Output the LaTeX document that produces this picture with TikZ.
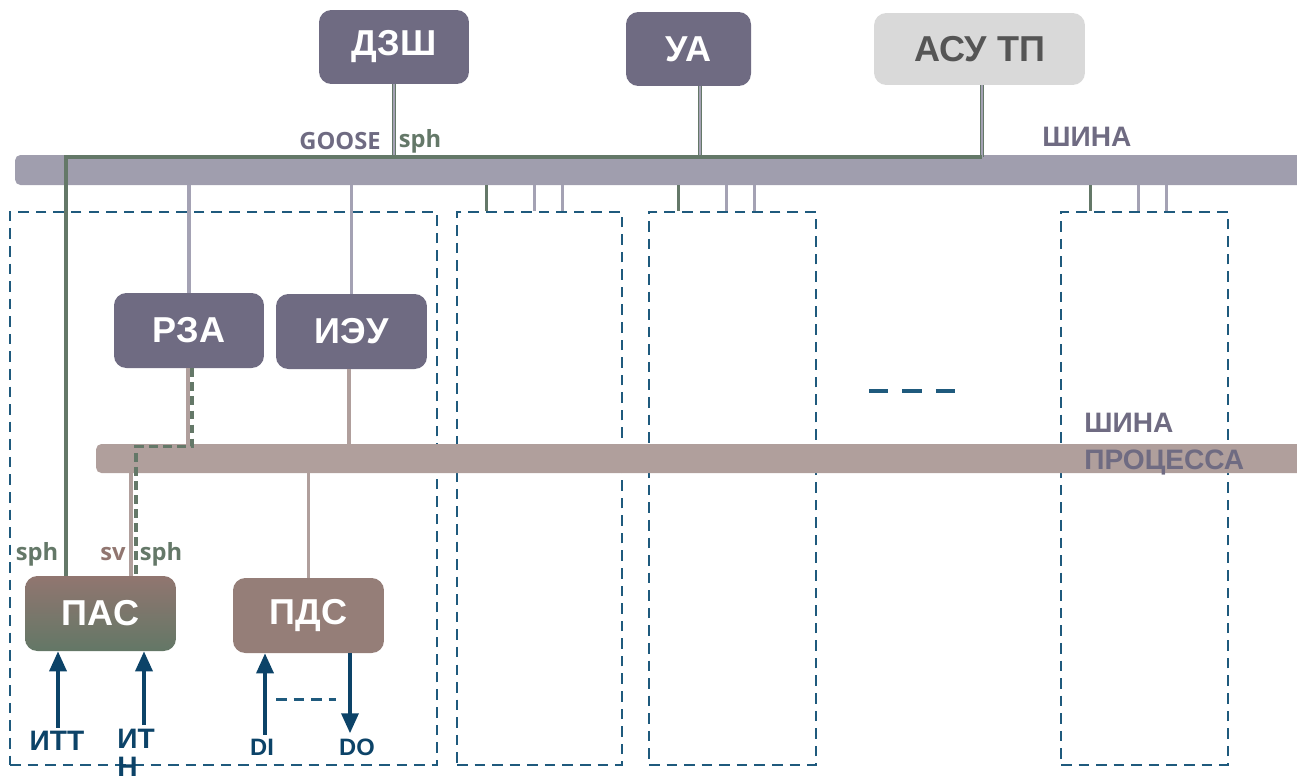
\documentclass[tikz,border=0pt]{standalone}
\usepackage{fontspec}
\setmainfont{Liberation Sans}
\newfontfamily\labelfont{Open Sans}
\usetikzlibrary{positioning, arrows.meta, calc}

\definecolor{iedgray}{HTML}{6F6B82}
\definecolor{stationbus}{HTML}{A09EAE}
\definecolor{lanwire}{HTML}{A4A2B4}
\definecolor{sphgreen}{HTML}{647868}
\definecolor{processbus}{HTML}{B09F9C}
\definecolor{mergebrown}{HTML}{957E78}
\definecolor{pastop}{HTML}{917670}
\definecolor{pasbottom}{HTML}{637766}
\definecolor{scadagray}{HTML}{D9D9D9}
\definecolor{scadatext}{HTML}{555555}
\definecolor{baycolor}{HTML}{1F5A7D}
\definecolor{signalblue}{HTML}{0C4368}

\begin{document}
\begin{tikzpicture}[x=0.02cm, y=-0.02cm,
  box/.style={rounded corners=7pt, text=white, inner sep=0pt,
    font=\fontsize{20.5}{24}\selectfont\bfseries, minimum height=1.5cm},
  ied/.style={box, fill=iedgray},
  busbar/.style={rounded corners=3pt, inner sep=0pt},
  bay/.style={draw=baycolor, line width=1.4pt, dash pattern=on 6pt off 4pt, inner sep=0pt},
  sphline/.style={draw=sphgreen, line width=1.8pt},
  lanline/.style={draw=lanwire, line width=2pt},
  procline/.style={draw=processbus, line width=1.8pt},
  sig/.style={draw=signalblue, line width=2pt, -{Triangle[length=0.4cm, width=0.34cm]}},
  siglbl/.style={text=signalblue, font=\bfseries, inner sep=0pt},
  tag/.style={font=\labelfont\fontsize{13.5}{16}\selectfont\bfseries, inner sep=0pt},
  buslbl/.style={text=iedgray, font=\fontsize{16}{20}\selectfont\bfseries, inner sep=0pt, align=left}
]
\clip (0,0) rectangle (1297,782);

% Bays
\node[bay, minimum width=8.54cm, minimum height=11.06cm] (bay1) at (223.5,488.5) {};
\node[bay, minimum width=3.3cm, minimum height=11.06cm] (bay2) at (539.5,488.5) {};
\node[bay, minimum width=3.34cm, minimum height=11.06cm] (bay3) at (732.5,488.5) {};
\node[bay, minimum width=3.34cm, minimum height=11.06cm] (bay4) at (1144.5,488.5) {};

% Buses
\node[busbar, fill=stationbus, minimum width=25.8cm, minimum height=0.6cm] (shina) at (660,170) {};
\node[busbar, fill=processbus, minimum width=24.2cm, minimum height=0.58cm] (procbus) at (701,458.5) {};
\node[buslbl, anchor=north west] (shinalbl) at (1042,127) {ШИНА};
\node[buslbl, anchor=north west] (proclbl) at (1084,413) {ШИНА\\[1pt]ПРОЦЕССА};

% Station level
\node[ied, minimum width=3cm, minimum height=1.48cm] (dzsh) at (394,47) {ДЗШ};
\node[ied, minimum width=2.5cm, minimum height=1.48cm] (ua) at (688.5,49) {УА};
\node[box, fill=scadagray, text=scadatext, minimum width=4.22cm, minimum height=1.44cm] (asu) at (979.5,49) {АСУ ТП};

% Bay level
\node[ied, minimum width=3cm] (rza) at (189,330.5) {РЗА};
\node[ied, minimum width=3.02cm] (ieu) at (351.5,331.5) {ИЭУ};

% Process level
\node[box, top color=pastop, bottom color=pasbottom, minimum width=3.02cm] (pas) at (100.5,613.5) {ПАС};
\node[box, fill=mergebrown, minimum width=3.02cm] (pds) at (308.5,615.5) {ПДС};

% Ports
\coordinate (gx) at (66,157);
\coordinate (uaport) at ([xshift=0.23cm]ua.south);
\coordinate (asuport) at ([xshift=0.05cm]asu.south);
\coordinate (rzaport) at ([xshift=0.06cm]rza.south);
\coordinate (svport) at ([xshift=0.61cm]pas.north);
\coordinate (pasport) at ([xshift=0.71cm]pas.north);
\path (procbus.north) ++(0,3) coordinate (bend);

% Station bus links
\foreach \p in {dzsh.south, uaport, asuport} {
  \draw[sphline, line width=2.4pt] (\p) -- (\p |- gx);
  \draw[lanline, line width=1pt] (\p) -- (\p |- gx);
}
\draw[sphline] (pas.north -| gx) -- (gx) -- (asuport |- gx);
\draw[lanline] (shina.south -| rza.north) -- (rza.north);
\draw[lanline] (shina.south -| ieu.north) -- (ieu.north);
\foreach \b in {2,3,4} {
  \coordinate (s\b) at ([xshift=0.62cm]bay\b.north west);
  \coordinate (t\b) at ([xshift=1.57cm]bay\b.north west);
  \coordinate (u\b) at ([xshift=2.13cm]bay\b.north west);
  \draw[sphline, line width=1.6pt] (s\b |- shina.south) -- (s\b);
  \draw[lanline] (t\b |- shina.south) -- (t\b);
  \draw[lanline] (u\b |- shina.south) -- (u\b);
}
\node[tag, text=iedgray, anchor=east] (goose) at (381,141) {GOOSE};
\node[tag, text=sphgreen] (sphtop) at (420,141) {sph};

% Process bus links
\draw[procline] ([xshift=-0.02cm]rza.south) -- ([xshift=-0.02cm]rza.south |- procbus.north);
\draw[procline] ([xshift=-0.05cm]ieu.south) -- ([xshift=-0.05cm]ieu.south |- procbus.north);
\draw[procline] (procbus.south -| pds.north) -- (pds.north);
\draw[procline] (svport |- procbus.south) -- (svport);
\draw[sphline, dash pattern=on 5pt off 3pt] (rzaport) -- (rzaport |- bend) -- (pasport |- bend) -- (pasport);
\node[tag, text=sphgreen] (sphleft) at (37,554) {sph};
\node[tag, text=pastop] (sv) at (113,554) {sv};
\node[tag, text=sphgreen] (sphright) at (161,554) {sph};

% Inputs and outputs
\node[siglbl, font=\fontsize{16}{18}\selectfont\bfseries] (itt) at (57,741) {ИТТ};
\node[siglbl, font=\fontsize{16}{16}\selectfont\bfseries, anchor=north west, align=left] (itn) at (117,729) {ИТ\\Н};
\node[siglbl, font=\fontsize{13.5}{16}\selectfont\bfseries] (di) at (262,747) {DI};
\node[siglbl, font=\fontsize{13.5}{16}\selectfont\bfseries] (do) at (357,747) {DO};
\coordinate (ittport) at ([xshift=-0.85cm]pas.south);
\coordinate (itnport) at ([xshift=0.87cm]pas.south);
\coordinate (diport) at ([xshift=-0.87cm]pds.south);
\coordinate (doport) at ([xshift=0.83cm]pds.south);
\draw[sig] (ittport |- itt.north) ++(0,-3) -- (ittport);
\draw[sig] (itnport |- itn.north) ++(0,-4) -- (itnport);
\draw[sig] (diport |- di.north) ++(0,-4) -- (diport);
\draw[sig] (doport) -- ($(doport |- do.north)+(0,-5)$);
\path (pds.south) ++(0,46) coordinate (mid);
\draw[draw=baycolor, line width=1.4pt, dash pattern=on 6pt off 4pt] ($(diport |- mid)+(11,0)$) -- ($(doport |- mid)+(-14,0)$);

% Further bays
\draw[draw=baycolor, line width=2pt, dash pattern=on 11pt off 8pt] (869,391) -- (969,391);

\end{tikzpicture}
\end{document}
